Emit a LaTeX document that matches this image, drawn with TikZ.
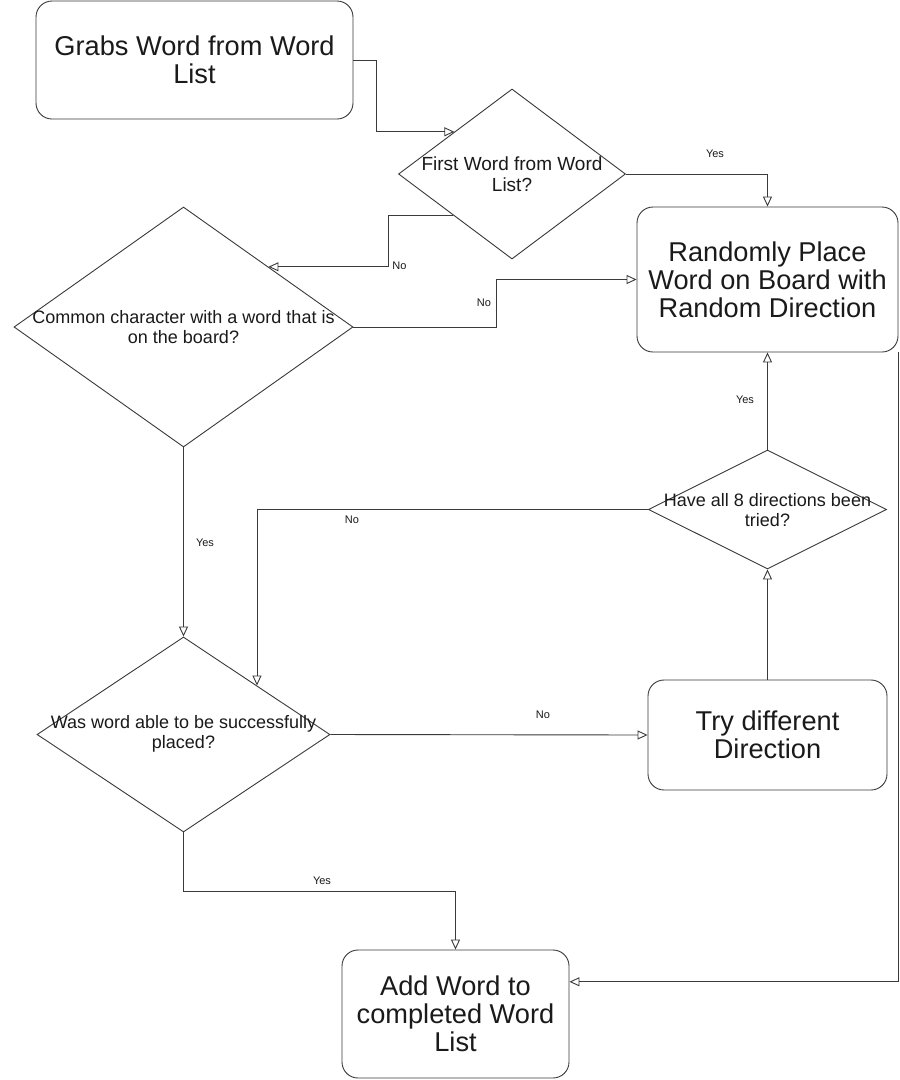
\documentclass[tikz,border=0pt]{standalone}
\usepackage{fontspec}
\setmainfont{Liberation Sans}
\usetikzlibrary{shapes.geometric,arrows.meta,calc}
\definecolor{ln}{HTML}{3A3A3A}
\definecolor{tx}{HTML}{1A1A1A}
\begin{document}
\begin{tikzpicture}[x=1pt,y=-1pt,
 proc/.style={draw=ln, line width=0.9pt, rounded corners=16pt, fill=white, inner sep=0pt, text=tx, align=center, font=\fontsize{27.2}{28}\selectfont},
 dia/.style={draw=ln, line width=0.9pt, diamond, inner sep=0pt},
 dtext/.style={text=tx, align=center, font=\fontsize{18}{20}\selectfont, inner sep=0pt},
 lbl/.style={text=tx, font=\fontsize{11}{13}\selectfont, inner sep=0pt},
 arr/.style={draw=ln, line width=0.9pt, -{Triangle[open, length=10pt, width=9pt]}}]

\useasboundingbox[fill=white] (0,0) rectangle (900,1080);

% process boxes
\node[proc, minimum width=317pt, minimum height=118pt] (b1) at (194.5,60) {Grabs Word from Word\\List};
\node[proc, minimum width=261pt, minimum height=145pt] (b2) at (767.5,279.5) {Randomly Place\\Word on Board with\\Random Direction};
\node[proc, minimum width=239pt, minimum height=110pt] (td) at (767.5,735) {Try different\\Direction};
\node[proc, minimum width=227pt, minimum height=128pt] (add) at (455.5,1014) {Add Word to\\completed Word\\List};

% decisions
\node[dia, minimum width=227pt, minimum height=170pt] (d1) at (512,174) {};
\node[dtext, font=\fontsize{19}{21}\selectfont] (d1t) at (512,174.5) {First Word from Word\\List?};
\node[dia, minimum width=339pt, minimum height=240pt] (d2) at (183.5,327) {};
\node[dtext] (d2t) at (183.5,327) {Common character with a word that is\\on the board?};
\node[dia, minimum width=293pt, minimum height=195pt] (d3) at (183.5,734.5) {};
\node[dtext] (d3t) at (183.5,734) {Was word able to be successfully\\placed?};
\node[dia, minimum width=238pt, minimum height=119pt] (d4) at (767.5,509.5) {};
\node[dtext] (d4t) at (767.5,510) {Have all 8 directions been\\tried?};

% helper coordinates on shape borders
\coordinate (p1) at ($(d1.west)!0.494!(d1.north)$);
\coordinate (p2) at ($(d1.west)!0.48!(d1.south)$);
\coordinate (p3) at ($(d2.north)!0.5!(d2.east)$);
\coordinate (c3) at ($(p3)+(119.5,0)$);
\coordinate (p5) at ($(d3.north)!0.5!(d3.east)$);
\coordinate (p6) at ($(add.north east)!0.25!(add.south east)$);

% connectors
\draw[arr] (b1.east) -- ++(23,0) |- (p1);
\draw[arr] (d1.east) -| (b2.north);
\draw[arr] (p2) -| (c3) -- (p3);
\draw[arr] (d2.east) -- ++(143,0) |- (b2.west);
\draw[arr] (d2.south) -- (d3.north);
\draw[arr] (d3.east) -- (td.west);
\draw[arr] (td.north) -- (d4.south);
\draw[arr] (d4.north) -- (b2.south);
\draw[arr] (d4.west) -| (p5);
\draw[arr] (d3.south) -- ++(0,59) -| (add.north);
\draw[arr] (b2.south east) |- (p6);

% labels
\node[lbl] (l1) at (715,154) {Yes};
\node[lbl] (l2) at (399.5,266) {No};
\node[lbl] (l3) at (484,303) {No};
\node[lbl] (l4) at (205,543) {Yes};
\node[lbl] (l5) at (543,715) {No};
\node[lbl] (l6) at (745,400) {Yes};
\node[lbl] (l7) at (352,520) {No};
\node[lbl] (l8) at (322,881) {Yes};
\end{tikzpicture}
\end{document}
